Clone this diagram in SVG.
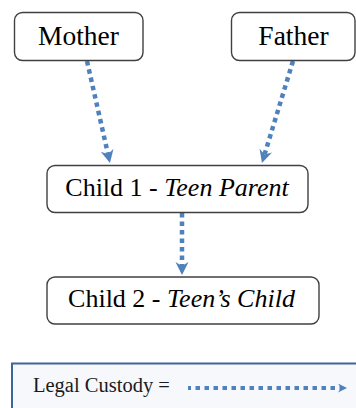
<svg xmlns="http://www.w3.org/2000/svg" width="356" height="408" viewBox="0 0 356 408">
<defs>
<style>
.box{fill:#ffffff;stroke:#404040;stroke-width:1.4}
.lbl{fill:#000000;text-anchor:middle}
.conn{stroke:#4f81bd;stroke-width:4.5;stroke-dasharray:4.5 4;fill:none}
</style>
<marker id="ah" markerUnits="userSpaceOnUse" markerWidth="14" markerHeight="14" refX="4" refY="6.5" orient="auto">
<path d="M0,0 L13,6.5 L0,13 L4,6.5 Z" fill="#4f81bd"/>
</marker>
<marker id="ahs" markerUnits="userSpaceOnUse" markerWidth="10" markerHeight="10" refX="3" refY="4.5" orient="auto">
<path d="M0,0 L9,4.5 L0,9 L3,4.5 Z" fill="#4f81bd"/>
</marker>
</defs>
<rect width="356" height="408" fill="#ffffff"/>
<g id="connectors">
<line class="conn" x1="87" y1="61" x2="108" y2="154.2" marker-end="url(#ah)"/>
<line class="conn" x1="293" y1="61" x2="264.6" y2="154.4" marker-end="url(#ah)"/>
<line class="conn" x1="182" y1="213" x2="182" y2="266" marker-end="url(#ah)"/>
</g>
<g id="mother">
<rect class="box" x="14.5" y="12.5" width="128.5" height="48" rx="8"/>
<text class="lbl" x="78.5" y="45" font-size="27.5" font-family="Liberation Serif, serif">Mother</text>
</g>
<g id="father">
<rect class="box" x="231.5" y="12.5" width="123.5" height="48" rx="8"/>
<text class="lbl" x="293.5" y="45" font-size="27.5" font-family="Liberation Serif, serif">Father</text>
</g>
<g id="child1">
<rect class="box" x="47" y="165.5" width="261" height="47" rx="8"/>
<text class="lbl" x="177" y="196" font-size="26" font-family="Liberation Serif, serif">Child 1 - <tspan font-style="italic">Teen Parent</tspan></text>
</g>
<g id="child2">
<rect class="box" x="47" y="277" width="272" height="47" rx="8"/>
<text class="lbl" x="181.5" y="306.5" font-size="26" font-family="Liberation Serif, serif">Child 2 - <tspan font-style="italic">Teen’s Child</tspan></text>
</g>
<g id="legend">
<rect x="12" y="363.5" width="350" height="60" fill="#f6f8fb" stroke="#3f6597" stroke-width="2"/>
<text x="33" y="391.5" font-size="20.5" font-family="Liberation Serif, serif" fill="#1a1a1a">Legal Custody =</text>
<line x1="188" y1="388" x2="341" y2="388" stroke="#4f81bd" stroke-width="4" stroke-dasharray="4.5 4.5" stroke-dashoffset="1.5" marker-end="url(#ahs)"/>
</g>
</svg>
